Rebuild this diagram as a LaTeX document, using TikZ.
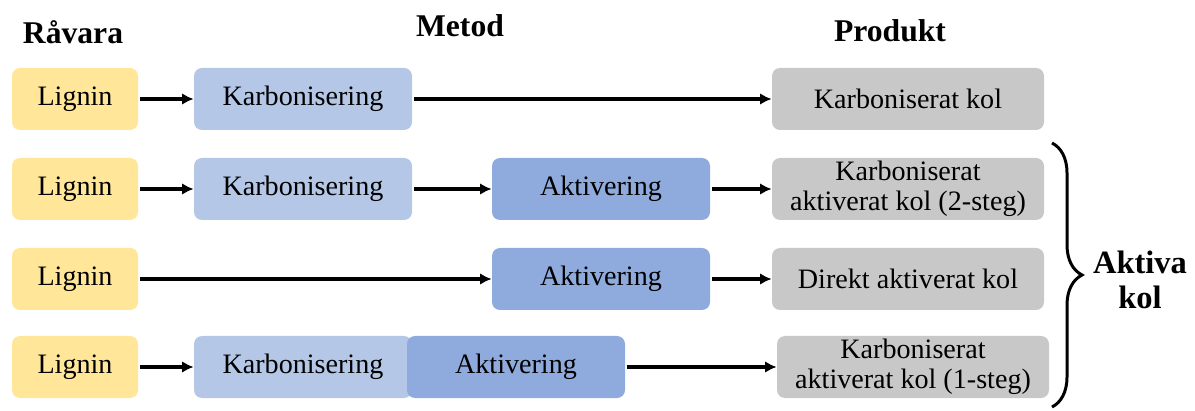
\documentclass[tikz,border=0pt]{standalone}
\usepackage{fontspec}
\setmainfont{Liberation Serif}
\usetikzlibrary{arrows.meta,decorations.pathreplacing}
\definecolor{cLig}{HTML}{FFE699}
\definecolor{cKarb}{HTML}{B4C7E7}
\definecolor{cAkt}{HTML}{8FAADC}
\definecolor{cProd}{HTML}{C8C8C8}
\tikzset{
  box/.style={rectangle, rounded corners=8*0.02cm, inner sep=0pt, minimum height=62*0.02cm, align=center, font=\fontsize{16pt}{17pt}\selectfont, text=black},
  lig/.style={box, fill=cLig, minimum width=126*0.02cm},
  karb/.style={box, fill=cKarb, minimum width=218*0.02cm},
  akt/.style={box, fill=cAkt, minimum width=218*0.02cm},
  prod/.style={box, fill=cProd, minimum width=272*0.02cm},
  head/.style={font=\fontsize{18pt}{19.5pt}\selectfont\bfseries, align=center},
  arr/.style={-{Latex[length=6.5pt,width=6.5pt]}, line width=2pt, black, shorten <=1pt},
}
\begin{document}
\begin{tikzpicture}[x=0.02cm,y=-0.02cm]
\useasboundingbox (0,0) rectangle (1195,411);
% headers
\node[head] (h1) at (73,32) {Råvara};
\node[head] (h2) at (460,26) {Metod};
\node[head] (h3) at (890,31) {Produkt};
% row 1
\node[lig] (l1) at (75,99) {Lignin};
\node[karb] (k1) at (303,99) {Karbonisering};
\node[prod] (p1) at (908,99) {Karboniserat kol};
\draw[arr] (l1) -- (k1);
\draw[arr] (k1) -- (p1);
% row 2
\node[lig] (l2) at (75,189) {Lignin};
\node[karb] (k2) at (303,189) {Karbonisering};
\node[akt] (a2) at (601,189) {Aktivering};
\node[prod] (p2) at (908,189) {Karboniserat\\aktiverat kol (2-steg)};
\draw[arr] (l2) -- (k2);
\draw[arr] (k2) -- (a2);
\draw[arr] (a2) -- (p2);
% row 3
\node[lig] (l3) at (75,279) {Lignin};
\node[akt] (a3) at (601,279) {Aktivering};
\node[prod] (p3) at (908,279) {Direkt aktiverat kol};
\draw[arr] (l3) -- (a3);
\draw[arr] (a3) -- (p3);
% row 4
\node[lig] (l4) at (75,367) {Lignin};
\node[karb] (k4) at (303,367) {Karbonisering};
\node[akt] (a4) at (516,367) {Aktivering};
\node[prod] (p4) at (913,367) {Karboniserat\\aktiverat kol (1-steg)};
\draw[arr] (l4) -- (k4);
\draw[arr] (a4) -- (p4);
% brace
\coordinate (bt) at (1052,143);
\coordinate (bb) at (1052,407);
\draw[decorate, decoration={brace, amplitude=30*0.02cm}, line width=1.7pt] (bt) -- (bb);
\node[head, font=\fontsize{18.5pt}{19.5pt}\selectfont\bfseries] (ak) at (1140,280) {Aktiva\\kol};
\end{tikzpicture}
\end{document}
